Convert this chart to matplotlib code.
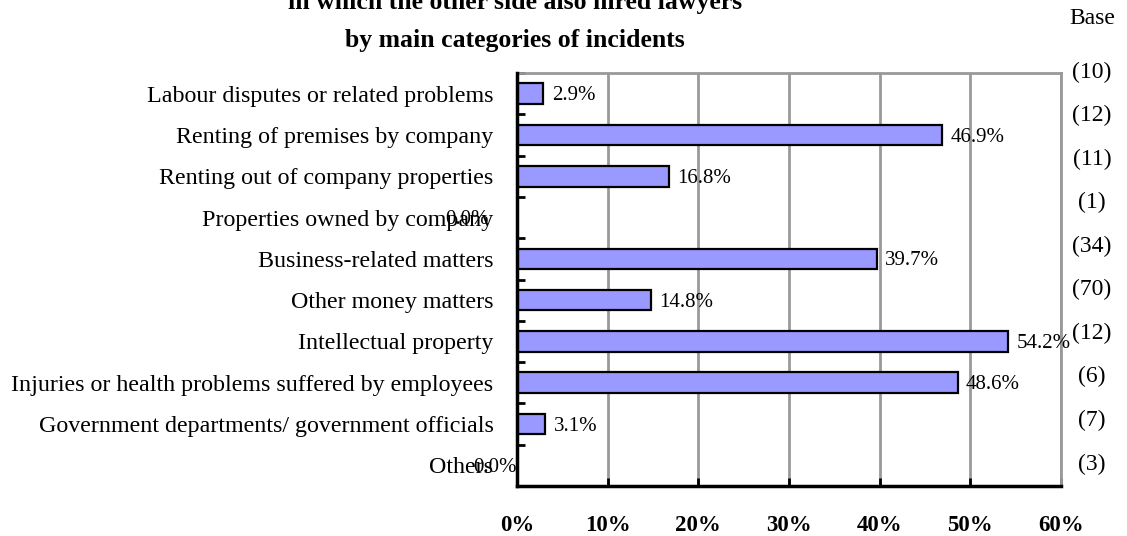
import matplotlib.pyplot as plt
import numpy as np

categories = ['Labour disputes or related problems',
              'Renting of premises by company',
              'Renting out of company properties',
              'Properties owned by company',
              'Business-related matters',
              'Other money matters',
              'Intellectual property',
              'Injuries or health problems suffered by employees',
              'Government departments/ government officials',
              'Others']
values = [2.9, 46.9, 16.8, 0.0, 39.7, 14.8, 54.2, 48.6, 3.1, 0.0]
bases = ['(10)', '(12)', '(11)', '(1)', '(34)', '(70)', '(12)', '(6)', '(7)', '(3)']
xticks = [0, 10, 20, 30, 40, 50, 60]

plt.rcParams['font.family'] = ['Liberation Serif', 'DejaVu Serif']

fig = plt.figure(figsize=(11.27, 5.36), dpi=100)
ax = fig.add_axes([517/1127, 1-486/536, 544/1127, 413/536])

y = np.arange(len(categories))
ax.barh(y, values, 0.5, color='#9999ff', edgecolor='black', linewidth=1.6, zorder=3)
ax.set_ylim(len(categories)-0.5, -0.5)
ax.set_xlim(0, 60)

for i, v in enumerate(values):
    lbl = '%.1f%%' % v
    if v == 0:
        dx = -20 if i == 3 else 0
        ax.annotate(lbl, (0, i), xytext=(dx, -1.5), textcoords='offset points',
                    ha='right', va='center', fontsize=15)
    else:
        ax.annotate(lbl, (v, i), xytext=(6, -1.5), textcoords='offset points',
                    ha='left', va='center', fontsize=15)

ax.set_yticks(y)
ax.set_yticklabels(categories, fontsize=17.3)
ax.set_yticks(np.arange(len(categories)+1)-0.5, minor=True)
ax.tick_params(axis='y', which='major', length=0, pad=17)
ax.tick_params(axis='y', which='minor', length=6, width=2, direction='in')

ax.set_xticks(xticks)
ax.set_xticklabels(['%d%%' % t for t in xticks], fontsize=16.5, fontweight='bold')
ax.tick_params(axis='x', length=6, width=2, direction='in', pad=21)

ax.grid(axis='x', color='#999999', linewidth=2, zorder=0)
for s in ['top', 'right']:
    ax.spines[s].set_color('#999999')
    ax.spines[s].set_linewidth(2)
for s in ['left', 'bottom']:
    ax.spines[s].set_color('black')
    ax.spines[s].set_linewidth(2.5)
    ax.spines[s].set_zorder(4)

# base column
fig.text(1092/1127, 1-19/536, 'Base', ha='center', va='center', fontsize=17)
base_y = np.linspace(72, 464, len(bases))
for b, yy in zip(bases, base_y):
    fig.text(1092/1127, 1-yy/536, b, ha='center', va='center', fontsize=17)

fig.text(515/1127, 1-3/536, 'in which the other side also hired lawyers',
         ha='center', va='center', fontsize=18.5, fontweight='bold')
fig.text(515/1127, 1-40/536, 'by main categories of incidents',
         ha='center', va='center', fontsize=18.5, fontweight='bold')

fig.savefig('out.png', dpi=100)
